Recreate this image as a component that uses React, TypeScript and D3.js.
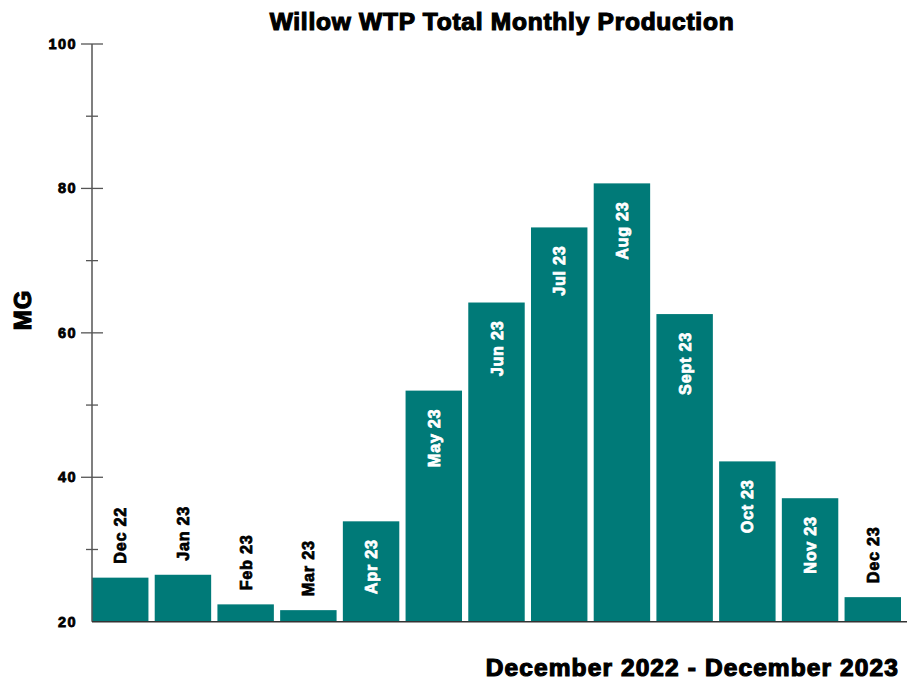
import React from "react";
import * as d3 from "d3";

const months = ["Dec 22", "Jan 23", "Feb 23", "Mar 23", "Apr 23", "May 23", "Jun 23", "Jul 23", "Aug 23", "Sept 23", "Oct 23", "Nov 23", "Dec 23"];
const production = [26.1, 26.5, 22.4, 21.6, 33.9, 52.0, 64.2, 74.6, 80.7, 62.6, 42.2, 37.1, 23.4];
const majorTicks = [20, 40, 60, 80, 100];
const minorTicks = [30, 50, 70, 90];
const title = "Willow WTP Total Monthly Production";
const yTitle = "MG";
const xTitle = "December 2022 - December 2023";

const W = 918;
const H = 681;
const FONT = "'Liberation Sans', Arial, sans-serif";
const TEAL = "#007a78";

export default function App() {
  const x = d3.scaleBand<string>().domain(months).range([92, 901]).paddingInner(0.1).paddingOuter(0);
  const y = d3.scaleLinear().domain([20, 100]).range([621.7, 44]);
  const axisX = 92;
  const heavy = { fontFamily: FONT, fontWeight: 700, stroke: "currentColor", strokeWidth: 0.6, paintOrder: "stroke" } as const;

  return (
    <svg width={W} height={H} style={{ position: "absolute", left: 0, top: 0, background: "#fff" }}>
      <text x={502} y={30} textAnchor="middle" fontSize={24.5} letterSpacing={0.75} fill="#000" style={{ ...heavy, color: "#000", strokeWidth: 1.2 }}>{title}</text>
      {months.map((m, i) => {
        const v = production[i];
        const bx = x(m)!;
        const bw = x.bandwidth();
        const top = y(v);
        const inside = v > 30;
        const cx = bx + bw / 2;
        const ly = inside ? top + 18 : top - 14;
        return (
          <g key={m}>
            <rect x={bx} y={top} width={bw} height={y(20) - top} fill={TEAL} />
            <text
              transform={`translate(${cx},${ly}) rotate(-90)`}
              textAnchor={inside ? "end" : "start"}
              dominantBaseline="central"
              fontSize={16.3}
              letterSpacing={0.7}
              fill={inside ? "#fff" : "#000"}
              style={{ ...heavy, color: inside ? "#fff" : "#000", strokeWidth: 0.75 }}
            >{m}</text>
          </g>
        );
      })}
      <line x1={axisX} x2={axisX} y1={y(100)} y2={y(20)} stroke="#555" strokeWidth={1.5} />
      <line x1={axisX} x2={907} y1={y(20)} y2={y(20)} stroke="#333" strokeWidth={1.5} />
      {majorTicks.map((t) => (
        <g key={t}>
          {t !== 20 && <line x1={axisX - 11} x2={axisX + 11} y1={y(t)} y2={y(t)} stroke="#555" strokeWidth={1.3} />}
          <text x={77} y={y(t)} textAnchor="end" dominantBaseline="central" fontSize={14.5} letterSpacing={1.4} fill="#000" style={{ ...heavy, color: "#000", strokeWidth: 0.8 }}>{t}</text>
        </g>
      ))}
      {minorTicks.map((t) => (
        <line key={t} x1={axisX - 6} x2={axisX + 6} y1={y(t)} y2={y(t)} stroke="#555" strokeWidth={1.3} />
      ))}
      <text transform={`translate(22,310) rotate(-90)`} textAnchor="middle" dominantBaseline="central" fontSize={24} letterSpacing={0.8} fill="#000" style={{ ...heavy, color: "#000", strokeWidth: 1.1 }}>{yTitle}</text>
      <text x={899} y={676} textAnchor="end" fontSize={24.5} letterSpacing={1.1} fill="#000" style={{ ...heavy, color: "#000", strokeWidth: 1.2 }}>{xTitle}</text>
    </svg>
  );
}
